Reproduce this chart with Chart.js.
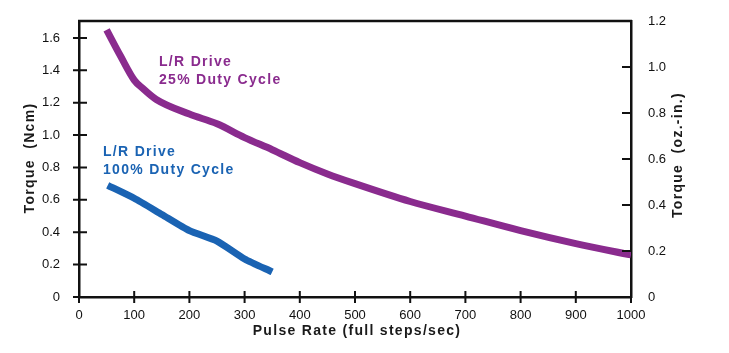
<!DOCTYPE html>
<html>
<head>
<meta charset="utf-8">
<script src="https://cdn.jsdelivr.net/npm/chart.js@4.4.1/dist/chart.umd.min.js"></script>
<style>
  html, body { margin: 0; padding: 0; background: #fff; }
  #myChart { display: block; }
</style>
</head>
<body>
<canvas id="myChart" width="729" height="353"></canvas>
<script>
// tick values
const pulseTicks = [0, 100, 200, 300, 400, 500, 600, 700, 800, 900, 1000];
const ncmTicks = [0, 0.2, 0.4, 0.6, 0.8, 1.0, 1.2, 1.4, 1.6];
const ozinTicks = [0, 0.2, 0.4, 0.6, 0.8, 1.0, 1.2];

// L/R drive, 25% duty cycle
const rate25 = [50, 75, 100, 115, 140, 200, 250, 300, 350, 400, 450, 500, 600, 700, 800, 900, 1000];
const torque25 = [1.65, 1.49, 1.34, 1.29, 1.22, 1.13, 1.07, 0.985, 0.91, 0.83, 0.76, 0.70, 0.59, 0.50, 0.41, 0.33, 0.26];

// L/R drive, 100% duty cycle
const rate100 = [52, 100, 150, 200, 250, 300, 350];
const torque100 = [0.69, 0.61, 0.51, 0.41, 0.345, 0.235, 0.155];

const purple = '#8a2b8e';
const blue = '#1a63b3';
const tickFont = { family: 'Liberation Sans, Arial, sans-serif', size: 13 };

function toPoints(xs, ys) {
    return xs.map((x, i) => ({ x: x, y: ys[i] }));
}

// frame top line, tick marks, labels and axis titles
const decorations = {
    id: 'decorations',
    afterDraw(chart) {
        const { ctx, chartArea: a, scales } = chart;
        ctx.save();
        ctx.strokeStyle = '#111';
        ctx.lineWidth = 2.5;
        ctx.beginPath();
        ctx.moveTo(a.left - 1, a.top);
        ctx.lineTo(a.right + 1, a.top);
        ctx.stroke();

        ctx.lineWidth = 2;
        ctx.beginPath();
        ncmTicks.forEach(v => {
            const y = scales.y.getPixelForValue(v);
            ctx.moveTo(a.left - 6, y);
            ctx.lineTo(a.left + 8, y);
        });
        ozinTicks.forEach(v => {
            const y = scales.y2.getPixelForValue(v);
            ctx.moveTo(a.right - 9, y);
            ctx.lineTo(a.right, y);
        });
        pulseTicks.forEach(v => {
            const x = scales.x.getPixelForValue(v);
            ctx.moveTo(x, a.bottom - 6);
            ctx.lineTo(x, a.bottom + 6);
        });
        ctx.stroke();

        // curve labels
        ctx.font = 'bold 14px Liberation Sans, Arial, sans-serif';
        ctx.letterSpacing = '1.3px';
        ctx.textBaseline = 'middle';
        ctx.textAlign = 'left';
        ctx.fillStyle = purple;
        ctx.fillText('L/R Drive', 159, 62);
        ctx.fillText('25% Duty Cycle', 159, 80);
        ctx.fillStyle = blue;
        ctx.fillText('L/R Drive', 103, 152);
        ctx.fillText('100% Duty Cycle', 103, 170);

        // axis titles
        ctx.fillStyle = '#1a1a1a';
        ctx.textAlign = 'center';
        ctx.fillText('Pulse Rate (full steps/sec)', 357, 331);
        ctx.save();
        ctx.translate(30, 158);
        ctx.rotate(-Math.PI / 2);
        ctx.fillText('Torque  (Ncm)', 0, 0);
        ctx.restore();
        ctx.save();
        ctx.translate(678, 155);
        ctx.rotate(-Math.PI / 2);
        ctx.fillText('Torque  (oz.-in.)', 0, 0);
        ctx.restore();
        ctx.restore();
    }
};

const ctx = document.getElementById('myChart');

new Chart(ctx, {
    type: 'line',
    data: {
        datasets: [{
            label: 'L/R Drive 25% Duty Cycle',
            data: toPoints(rate25, torque25),
            borderColor: purple,
            borderWidth: 7,
            pointRadius: 0,
            cubicInterpolationMode: 'monotone',
            yAxisID: 'y'
        }, {
            label: 'L/R Drive 100% Duty Cycle',
            data: toPoints(rate100, torque100),
            borderColor: blue,
            borderWidth: 7,
            pointRadius: 0,
            tension: 0.2,
            yAxisID: 'y'
        }]
    },
    options: {
        responsive: false,
        animation: false,
        devicePixelRatio: 1,
        layout: { padding: { top: 21, left: 0, right: 0, bottom: 0 } },
        plugins: {
            legend: { display: false },
            tooltip: { enabled: false }
        },
        scales: {
            x: {
                type: 'linear',
                min: 0,
                max: 1000,
                afterBuildTicks: s => { s.ticks = pulseTicks.map(v => ({ value: v })); },
                afterFit: s => { s.height = 56; },
                grid: { display: false },
                border: { display: true, color: '#111', width: 2.5 },
                ticks: {
                    color: '#111', font: tickFont, padding: 3, maxRotation: 0,
                    callback: v => String(v)
                }
            },
            y: {
                position: 'left',
                min: 0,
                max: 1.705,
                afterBuildTicks: s => { s.ticks = ncmTicks.map(v => ({ value: v })); },
                afterFit: s => { s.width = 79; },
                grid: { display: false },
                border: { display: true, color: '#111', width: 2.5 },
                ticks: {
                    color: '#111', font: tickFont, padding: 11,
                    callback: v => v === 0 ? '0' : v.toFixed(1)
                }
            },
            y2: {
                position: 'right',
                min: 0,
                max: 1.2,
                afterBuildTicks: s => { s.ticks = ozinTicks.map(v => ({ value: v })); },
                afterFit: s => { s.width = 98; },
                grid: { display: false },
                border: { display: true, color: '#111', width: 2.5 },
                ticks: {
                    color: '#111', font: tickFont, padding: 9,
                    callback: v => v === 0 ? '0' : v.toFixed(1)
                }
            }
        }
    },
    plugins: [decorations]
});
</script>
</body>
</html>
